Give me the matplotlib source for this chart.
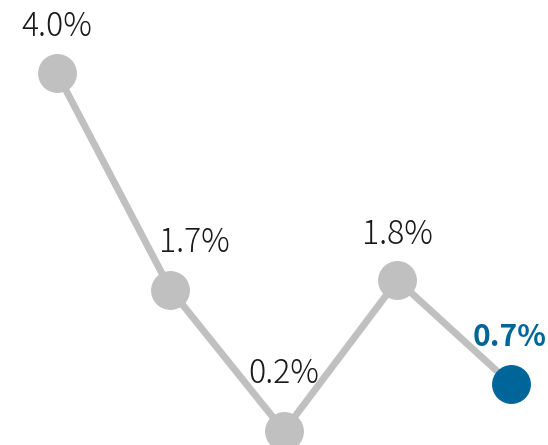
import numpy as np
import matplotlib.pyplot as plt

# values
periods = [0, 1, 2, 3, 4]
growth = [4.0, 1.7, 0.2, 1.8, 0.7]
labels = ["4.0%", "1.7%", "0.2%", "1.8%", "0.7%"]
# label offsets in points (dx, dy)
offsets = [(0, 33), (17, 34), (0, 41), (0, 33), (-1, 34)]

gray = "#c0c0c0"
blue = "#00669a"

plt.rcParams['font.family'] = ['Noto Sans CJK JP', 'DejaVu Sans']

fig = plt.figure(figsize=(5.48, 4.45), dpi=100)
ax = fig.add_axes([0, 0, 1, 1])

ax.plot(periods, growth, color=gray, lw=5, solid_capstyle='round', zorder=1)
ax.plot(periods[:-1], growth[:-1], 'o', color=gray, ms=27, zorder=2, clip_on=False)
ax.plot(periods[-1:], growth[-1:], 'o', color=blue, ms=27, zorder=3, clip_on=False)

for i, (x, y) in enumerate(zip(periods, growth)):
    last = i == len(periods) - 1
    ax.annotate(labels[i], (x, y), xytext=offsets[i], textcoords='offset points',
                ha='center', va='center', fontsize=21.5 if last else 23,
                color=blue if last else "#1a1a1a",
                fontweight='bold' if last else 'light')

ax.set_xlim(-0.502, 4.326)
ax.set_ylim(0.051, 4.775)
ax.axis('off')

plt.savefig("out.png", dpi=100)
